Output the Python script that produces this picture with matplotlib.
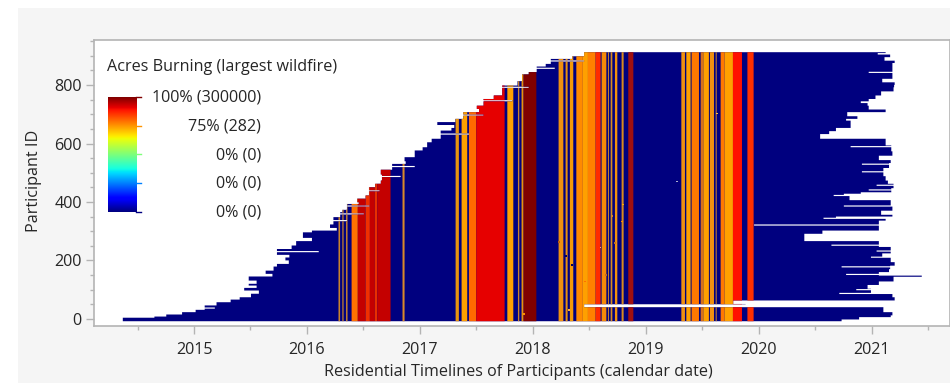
import matplotlib
matplotlib.use("Agg")
import matplotlib.pyplot as plt
import numpy as np
from matplotlib.patches import Rectangle

# left edge of the timelines, (lowest participant id of the run, decimal year)
start_ids = [-6, 6, 10, 17, 25, 33, 48, 59, 68, 76, 88, 99, 108, 116, 122, 133, 147, 156, 167, 181, 190, 202, 212, 221,
             241, 253, 268, 279, 298, 304, 313, 325, 350, 367, 375, 395, 401, 413, 424, 452, 464, 475, 496, 512, 532,
             541, 555, 578, 589, 606, 618, 646, 655, 665, 675, 686, 709, 720, 731, 754, 766, 800, 815, 838, 846, 865,
             874, 891, 900]
start_years = [2014.365, 2014.645, 2014.75, 2014.89, 2015.01, 2015.09, 2015.195, 2015.32, 2015.40, 2015.50, 2015.57,
               2015.44, 2015.55, 2015.48, 2015.55, 2015.48, 2015.69, 2015.63, 2015.70, 2015.73, 2015.835, 2015.805,
               2015.84, 2015.73, 2015.86, 2015.90, 2016.04, 2015.96, 2016.04, 2016.26, 2016.20, 2016.23, 2016.29,
               2016.31, 2016.35, 2016.455, 2016.44, 2016.515, 2016.545, 2016.60, 2016.65, 2016.66, 2016.65, 2016.75,
               2016.87, 2016.86, 2016.95, 2017.02, 2017.06, 2017.10, 2017.18, 2017.275, 2017.30, 2017.15, 2017.31,
               2017.38, 2017.52, 2017.50, 2017.56, 2017.65, 2017.725, 2017.86, 2017.90, 2017.96, 2018.03, 2018.11,
               2018.155, 2018.345, 2018.45]
start_slit_ids = [37, 230, 336, 359, 386, 438, 487, 521, 632, 697, 746, 792, 857, 882]
start_slit_years = [2015.18, 2016.10, 2016.35, 2016.50, 2016.55, 2016.64, 2016.825, 2016.95, 2017.43, 2017.56, 2017.815,
                    2017.96, 2018.19, 2018.45]

# right edge of the timelines
end_ids = [-6, 0, 8, 14, 25, 34, 42, 52, 53, 65, 76, 90, 97, 105, 113, 122, 130, 142, 146, 150, 162, 172, 184, 196, 205,
           213, 226, 248, 268, 272, 285, 293, 304, 325, 338, 347, 352, 358, 372, 386, 398, 408, 425, 430, 435, 449, 464,
           475, 490, 518, 535, 545, 560, 575, 595, 614, 618, 634, 644, 655, 671, 680, 686, 695, 709, 718, 731, 740, 746,
           754, 766, 780, 794, 802, 811, 823, 853, 877, 885, 897, 906, 911]
end_years = [2020.73, 2020.885, 2021.165, 2021.18, 2021.10, 2021.10, 2018.45, 2019.88, 2019.77, 2021.20, 2021.18,
             2020.99, 2020.99, 2020.96, 2020.96, 2021.06, 2021.19, 2021.19, 2021.44, 2021.06, 2021.15, 2021.16, 2021.20,
             2021.165, 2021.165, 2021.09, 2021.165, 2021.06, 2020.40, 2020.40, 2020.40, 2020.56, 2021.06, 2021.06, 2021.12,
             2020.68, 2021.18, 2021.08, 2021.18, 2021.165, 2021.165, 2020.80, 2020.75, 2020.90, 2021.17, 2021.19, 2021.14,
             2021.12, 2021.10, 2021.15, 2021.165, 2021.06, 2021.18, 2021.17, 2021.12, 2021.12, 2020.54, 2020.62, 2020.68,
             2020.81, 2020.81, 2020.77, 2020.87, 2020.78, 2021.12, 2020.97, 2020.96, 2020.90, 2020.97, 2021.03, 2021.08,
             2021.19, 2021.195, 2021.20, 2021.09, 2021.18, 2021.18, 2021.20, 2021.11, 2021.16, 2021.05, 2021.12]
end_slit_ids = [87, 100, 118, 152, 178, 211, 232, 252, 321, 344, 386, 422, 441, 457, 503, 529, 589, 843]
end_slit_years = [2020.71, 2020.86, 2021.06, 2020.77, 2020.73, 2020.99, 2021.04, 2020.64, 2019.955, 2020.57, 2020.75,
                  2020.66, 2020.97, 2021.04, 2020.91, 2020.91, 2020.81, 2020.97]

# wildfire periods: start, stop, colour
band_starts = [2016.275, 2016.309, 2016.342, 2016.391, 2016.446, 2016.515, 2016.553, 2016.597, 2016.618, 2016.842,
               2017.312, 2017.365, 2017.43, 2017.495, 2017.77, 2017.864, 2017.896, 2017.914, 2018.224, 2018.286,
               2018.324, 2018.381, 2018.439, 2018.484, 2018.552, 2018.605, 2018.661, 2018.685, 2018.723, 2018.782,
               2018.841, 2019.311, 2019.355, 2019.402, 2019.482, 2019.506, 2019.564, 2019.615, 2019.659, 2019.694,
               2019.768, 2019.896]
band_stops = [2016.289, 2016.32, 2016.355, 2016.446, 2016.515, 2016.553, 2016.597, 2016.618, 2016.736, 2016.86,
              2017.341, 2017.415, 2017.495, 2017.746, 2017.823, 2017.876, 2017.914, 2018.027, 2018.266, 2018.304,
              2018.354, 2018.439, 2018.484, 2018.552, 2018.596, 2018.647, 2018.67, 2018.70, 2018.744, 2018.80,
              2018.886, 2019.343, 2019.393, 2019.467, 2019.506, 2019.555, 2019.60, 2019.624, 2019.694, 2019.768,
              2019.848, 2019.951]
band_colours = ["#c9822e", "#c9822e", "#c9822e", "#ff7200", "#c40000", "#f03000", "#c40000", "#e83000", "#c40000", "#d8882a",
                "#e8940f", "#ffa000", "#ff6a00", "#e60000", "#ffa000", "#c9822e", "#e8900f", "#800000", "#f09010", "#e8900f",
                "#f59a08", "#ff8a00", "#ffa000", "#ff8000", "#ff2a00", "#f58a08", "#c9822e", "#d88a20", "#f09010", "#d88a20",
                "#a01010", "#f09010", "#ffa000", "#ff7800", "#d8701a", "#ffa000", "#f09010", "#c9822e", "#ff7800", "#ffa000",
                "#ff1000", "#ff3000"]

# stray single cells
speck_years = [2018.23, 2018.295, 2018.345, 2018.32, 2017.92, 2018.464, 2018.60, 2018.65, 2018.73, 2018.80, 2018.705,
               2018.79, 2019.63, 2019.275]
speck_ids = [264, 216, 185, 31, 17, 128, 244, 150, 261, 391, 353, 333, 703, 470]
speck_colours = ["#c06010", "#000060", "#000060", "#ffb040", "#ff9000", "#ff7000", "#ffb080", "#c07020", "#c07020",
                 "#ffb000", "#d08030", "#ff9000", "#ffc040", "#b0b0d0"]

legend_labels = ["100% (300000)", "75% (282)", "0% (0)", "0% (0)", "0% (0)"]
legend_levels = [1.0, 0.75, 0.5, 0.25, 0.0]

plt.rcParams['font.family'] = ['Open Sans', 'DejaVu Sans']
W, H = 950, 383
GREY = "#b4b4b4"
TEXT = "#262626"
FS = 11.6


def px_box(left, top, right, bottom):
    return [left / W, 1 - bottom / H, (right - left) / W, (bottom - top) / H]


def lookup(ids, breaks, values):
    return np.array(values)[np.searchsorted(breaks, ids, side="right") - 1]


fig = plt.figure(figsize=(W / 100, H / 100), dpi=100, facecolor="white")
fig.add_artist(Rectangle((18 / W, 0), 1 - 18 / W, 1 - 8 / H, transform=fig.transFigure, color="#f5f5f5", lw=0, zorder=-5))

ax = fig.add_axes(px_box(93.5, 40, 949.5, 325.7))
ax.set_facecolor("white")

ids = np.arange(-6, 915)
start = lookup(ids, start_ids, start_years)
end = lookup(ids, end_ids, end_years)
for i, y in zip(start_slit_ids, start_slit_years):
    start[(ids >= i) & (ids < i + 4)] = y
for i, y in zip(end_slit_ids, end_slit_years):
    end[(ids >= i) & (ids < i + 4)] = y

ax.fill_betweenx(ids, start, end, step="post", color="#00007f", lw=0)
for a, b, c in zip(band_starts, band_stops, band_colours):
    ax.fill_betweenx(ids, np.clip(start, a, b), np.clip(end, a, b), step="post", color=c, lw=0)
ax.scatter(speck_years, speck_ids, s=1.5, marker="s", c=speck_colours, lw=0, zorder=3)

ax.set_xlim(2014.11, 2021.69)
ax.set_ylim(-23, 954)
ax.set_xticks(np.arange(2015, 2022))
ax.set_xticks(np.arange(2014.5, 2022, 1), minor=True)
ax.set_yticks(np.arange(0, 801, 200))
ax.set_yticks(np.arange(50, 951, 50), minor=True)
ax.tick_params(which="major", length=6, width=1, color=GREY, labelsize=FS, labelcolor=TEXT)
ax.tick_params(which="minor", length=3, width=1, color=GREY)
ax.tick_params(axis="x", which="major", pad=6)
ax.tick_params(axis="y", which="major", pad=2.5)
for s in ax.spines.values():
    s.set_color(GREY)
    s.set_linewidth(1.2)

fig.text(518 / W, 1 - 372 / H, "Residential Timelines of Participants (calendar date)", ha="center", va="center",
         fontsize=FS, color=TEXT)
fig.text(34 / W, 1 - 181 / H, "Participant ID", rotation=90, ha="center", va="center", fontsize=FS, color=TEXT)

# legend
fig.text(107 / W, 1 - 67 / H, "Acres Burning (largest wildfire)", ha="left", va="center", fontsize=FS, color=TEXT)
cax = fig.add_axes(px_box(107.5, 97, 136.5, 211.5))
cax.imshow(np.linspace(1, 0, 256).reshape(-1, 1), cmap="jet", aspect="auto", extent=[0, 1, 0, 1])
cax.axis("off")
for level, label in zip(legend_levels, legend_labels):
    y = 211.5 - level * 114.5
    colour = plt.cm.jet(level)
    fig.add_artist(plt.Line2D([136 / W, 141 / W], [1 - y / H, 1 - y / H], color=colour, lw=1, transform=fig.transFigure))
    fig.text(261 / W, 1 - (y + 1) / H, label, ha="right", va="center", fontsize=FS, color=TEXT)

fig.savefig("out.png", dpi=100)
